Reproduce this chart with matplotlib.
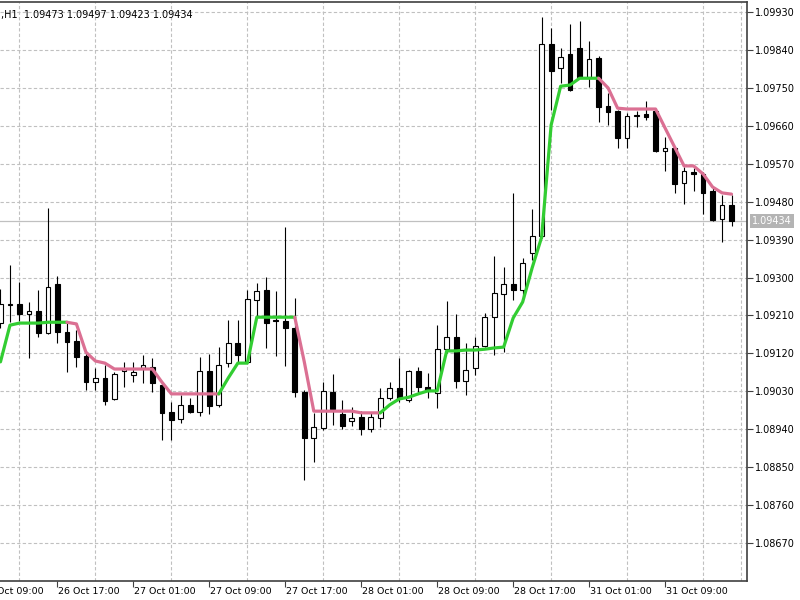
import matplotlib
matplotlib.use("Agg")
import matplotlib.pyplot as plt
import matplotlib.transforms as mtransforms
from matplotlib.patches import Rectangle

# hourly bars, first visible bar is 26 Oct 11:00
opens = [1.09192, 1.09235, 1.09237, 1.09213, 1.09221, 1.09168, 1.09285, 1.09171, 1.09149, 1.09114,
         1.09052, 1.09062, 1.09012, 1.09078, 1.09069, 1.09085, 1.09088, 1.09045, 1.08981, 1.08964,
         1.08998, 1.08981, 1.09078, 1.08998, 1.09097, 1.09145, 1.09100, 1.09247, 1.09270, 1.09199,
         1.09197, 1.09180, 1.09028, 1.08919, 1.08943, 1.09028, 1.08976, 1.08960, 1.08969, 1.08941,
         1.08967, 1.09014, 1.09038, 1.09009, 1.09078, 1.09040, 1.09026, 1.09130, 1.09159, 1.09054,
         1.09085, 1.09138, 1.09206, 1.09261, 1.09285, 1.09270, 1.09358, 1.09398, 1.09854, 1.09797,
         1.09830, 1.09845, 1.09776, 1.09821, 1.09707, 1.09695, 1.09631, 1.09683, 1.09688, 1.09695,
         1.09600, 1.09607, 1.09524, 1.09550, 1.09546, 1.09505, 1.09439, 1.09473]
highs = [1.09273, 1.09330, 1.09289, 1.09242, 1.09270, 1.09465, 1.09304, 1.09194, 1.09175, 1.09123,
         1.09085, 1.09092, 1.09076, 1.09100, 1.09100, 1.09116, 1.09109, 1.09050, 1.09005, 1.09021,
         1.09014, 1.09111, 1.09119, 1.09135, 1.09199, 1.09199, 1.09270, 1.09287, 1.09301, 1.09268,
         1.09420, 1.09251, 1.09033, 1.08979, 1.09052, 1.09071, 1.09009, 1.08993, 1.08983, 1.08981,
         1.09038, 1.09052, 1.09109, 1.09081, 1.09088, 1.09073, 1.09187, 1.09244, 1.09213, 1.09145,
         1.09159, 1.09216, 1.09351, 1.09325, 1.09501, 1.09346, 1.09463, 1.09918, 1.09892, 1.09845,
         1.09902, 1.09909, 1.09861, 1.09826, 1.09738, 1.09697, 1.09690, 1.09695, 1.09719, 1.09697,
         1.09633, 1.09610, 1.09562, 1.09560, 1.09550, 1.09515, 1.09496, 1.09497]
lows = [1.09180, 1.09194, 1.09197, 1.09109, 1.09159, 1.09166, 1.09145, 1.09076, 1.09088, 1.09033,
        1.09033, 1.08998, 1.09009, 1.09040, 1.09052, 1.09050, 1.09028, 1.08914, 1.08914, 1.08955,
        1.08979, 1.08971, 1.08976, 1.08993, 1.09088, 1.09097, 1.09097, 1.09204, 1.09133, 1.09114,
        1.09090, 1.09016, 1.08820, 1.08862, 1.08938, 1.08950, 1.08941, 1.08948, 1.08926, 1.08933,
        1.08945, 1.09009, 1.09005, 1.09005, 1.09026, 1.09014, 1.08990, 1.09121, 1.09038, 1.09021,
        1.09069, 1.09135, 1.09116, 1.09123, 1.09247, 1.09254, 1.09342, 1.09394, 1.09697, 1.09762,
        1.09743, 1.09773, 1.09752, 1.09669, 1.09662, 1.09607, 1.09607, 1.09657, 1.09674, 1.09598,
        1.09553, 1.09501, 1.09474, 1.09505, 1.09451, 1.09434, 1.09384, 1.09423]
closes = [1.09237, 1.09237, 1.09213, 1.09221, 1.09168, 1.09277, 1.09171, 1.09147, 1.09111, 1.09052,
          1.09062, 1.09007, 1.09071, 1.09083, 1.09076, 1.09092, 1.09050, 1.08979, 1.08962, 1.08998,
          1.08981, 1.09078, 1.08995, 1.09092, 1.09145, 1.09116, 1.09249, 1.09268, 1.09192, 1.09197,
          1.09180, 1.09028, 1.08919, 1.08945, 1.09031, 1.08988, 1.08948, 1.08967, 1.08941, 1.08969,
          1.09014, 1.09038, 1.09014, 1.09078, 1.09040, 1.09031, 1.09130, 1.09159, 1.09054, 1.09081,
          1.09138, 1.09206, 1.09263, 1.09285, 1.09270, 1.09334, 1.09398, 1.09854, 1.09790, 1.09823,
          1.09745, 1.09776, 1.09818, 1.09705, 1.09693, 1.09631, 1.09683, 1.09686, 1.09681, 1.09600,
          1.09607, 1.09522, 1.09553, 1.09546, 1.09501, 1.09436, 1.09472, 1.09434]
trend_line = [1.09100, 1.09187, 1.09192, 1.09192, 1.09192, 1.09194, 1.09194, 1.09194, 1.09190, 1.09123,
              1.09102, 1.09097, 1.09083, 1.09083, 1.09083, 1.09083, 1.09083, 1.09052, 1.09024, 1.09024,
              1.09024, 1.09024, 1.09024, 1.09024, 1.09062, 1.09097, 1.09097, 1.09206, 1.09206, 1.09206,
              1.09206, 1.09206, 1.09100, 1.08983, 1.08983, 1.08983, 1.08983, 1.08983, 1.08979, 1.08979,
              1.08979, 1.08998, 1.09012, 1.09016, 1.09024, 1.09031, 1.09031, 1.09126, 1.09126, 1.09128,
              1.09128, 1.09130, 1.09133, 1.09135, 1.09204, 1.09242, 1.09323, 1.09396, 1.09662, 1.09754,
              1.09757, 1.09773, 1.09773, 1.09773, 1.09750, 1.09702, 1.09700, 1.09700, 1.09700, 1.09700,
              1.09655, 1.09610, 1.09565, 1.09565, 1.09546, 1.09515, 1.09501, 1.09498]

time_labels = ["26 Oct 09:00", "26 Oct 17:00", "27 Oct 01:00", "27 Oct 09:00", "27 Oct 17:00",
               "28 Oct 01:00", "28 Oct 09:00", "28 Oct 17:00", "31 Oct 01:00", "31 Oct 09:00"]
label_bars = [-2, 6, 14, 22, 30, 38, 46, 54, 62, 70]
price_ticks = [1.08670, 1.08760, 1.08850, 1.08940, 1.09030, 1.09120, 1.09210, 1.09300,
               1.09390, 1.09480, 1.09570, 1.09660, 1.09750, 1.09840, 1.09930]
bid = 1.09434
header = ",H1  1.09473 1.09497 1.09423 1.09434"

UP_COLOR = "#32cd32"
DN_COLOR = "#db7093"
GRID_COLOR = "#c0c0c0"
AXIS_COLOR = "#404040"


def draw_candles(ax, width=0.5):
    for i in range(len(opens)):
        o, h, l, c = opens[i], highs[i], lows[i], closes[i]
        ax.vlines(i, l, h, color="black", lw=0.8, zorder=2)
        face = "white" if c >= o else "black"
        ax.add_patch(Rectangle((i - width / 2, min(o, c)), width, abs(c - o),
                               facecolor=face, edgecolor="black", lw=0.8, zorder=3))


def draw_trend(ax):
    # colour follows the last direction the line moved in
    state = 1
    seg_colors = []
    for i in range(1, len(trend_line)):
        d = trend_line[i] - trend_line[i - 1]
        if d > 0:
            state = 1
        elif d < 0:
            state = -1
        seg_colors.append(state)

    start = 0
    for j in range(1, len(seg_colors) + 1):
        if j == len(seg_colors) or seg_colors[j] != seg_colors[start]:
            xs = list(range(start, j + 1))
            ys = trend_line[start:j + 1]
            col = UP_COLOR if seg_colors[start] > 0 else DN_COLOR
            ax.plot(xs, ys, color=col, lw=2.3, solid_capstyle="round",
                    solid_joinstyle="round", zorder=5)
            start = j


fig = plt.figure(figsize=(8, 6), dpi=100)
ax = fig.add_axes([0, 0.0317, 0.93375, 0.965])

ax.set_xlim(-0.05, 78.63)
ax.set_ylim(1.08580, 1.09954)

ax.axhline(bid, color=GRID_COLOR, lw=0.9, zorder=1)
draw_candles(ax)
draw_trend(ax)

ax.yaxis.tick_right()
ax.set_yticks(price_ticks)
ax.set_yticklabels(["%.5f" % p for p in price_ticks])
ax.tick_params(axis="y", direction="out", length=4, width=0.8, color=AXIS_COLOR,
               pad=2, labelsize=7, labelcolor="black")

ax.set_xticks([b for b in label_bars if b >= 0])
ax.set_xticklabels([])
ax.set_xticks(list(range(2, 79, 4)), minor=True)
ax.tick_params(axis="x", which="major", direction="out", length=4, width=0.8, color=AXIS_COLOR)
ax.tick_params(axis="x", which="minor", length=0)

ax.grid(axis="y", which="major", color=GRID_COLOR, lw=0.8, linestyle=(0, (3, 2)), zorder=0)
ax.grid(axis="x", which="minor", color=GRID_COLOR, lw=0.8, linestyle=(0, (3, 2)), zorder=0)
ax.set_axisbelow(True)

# first label sits left of the plot and is cut by the edge, as in the original screenshot
lab_tr = mtransforms.offset_copy(ax.get_xaxis_transform(), fig=fig, x=1, y=-6, units="dots")
for b, t in zip(label_bars, time_labels):
    ax.text(b, 0, t, transform=lab_tr, ha="left", va="top", fontsize=6.8,
            color="black", clip_on=False)

bid_tr = mtransforms.offset_copy(ax.get_yaxis_transform(), fig=fig, x=5, y=0, units="dots")
ax.text(1.0, bid, "%.5f" % bid, transform=bid_tr, ha="left", va="center", fontsize=7,
        color="white", clip_on=False,
        bbox=dict(boxstyle="square,pad=0.2", facecolor="#b4b4b4", edgecolor="none"))

for side in ["top", "right", "bottom"]:
    ax.spines[side].set_color(AXIS_COLOR)
    ax.spines[side].set_linewidth(1.2)
ax.spines["left"].set_visible(False)

fig.text(1 / 800, 1 - 15 / 600, header, ha="left", va="center", fontsize=7, color="black")

fig.savefig("out.png", dpi=100)
